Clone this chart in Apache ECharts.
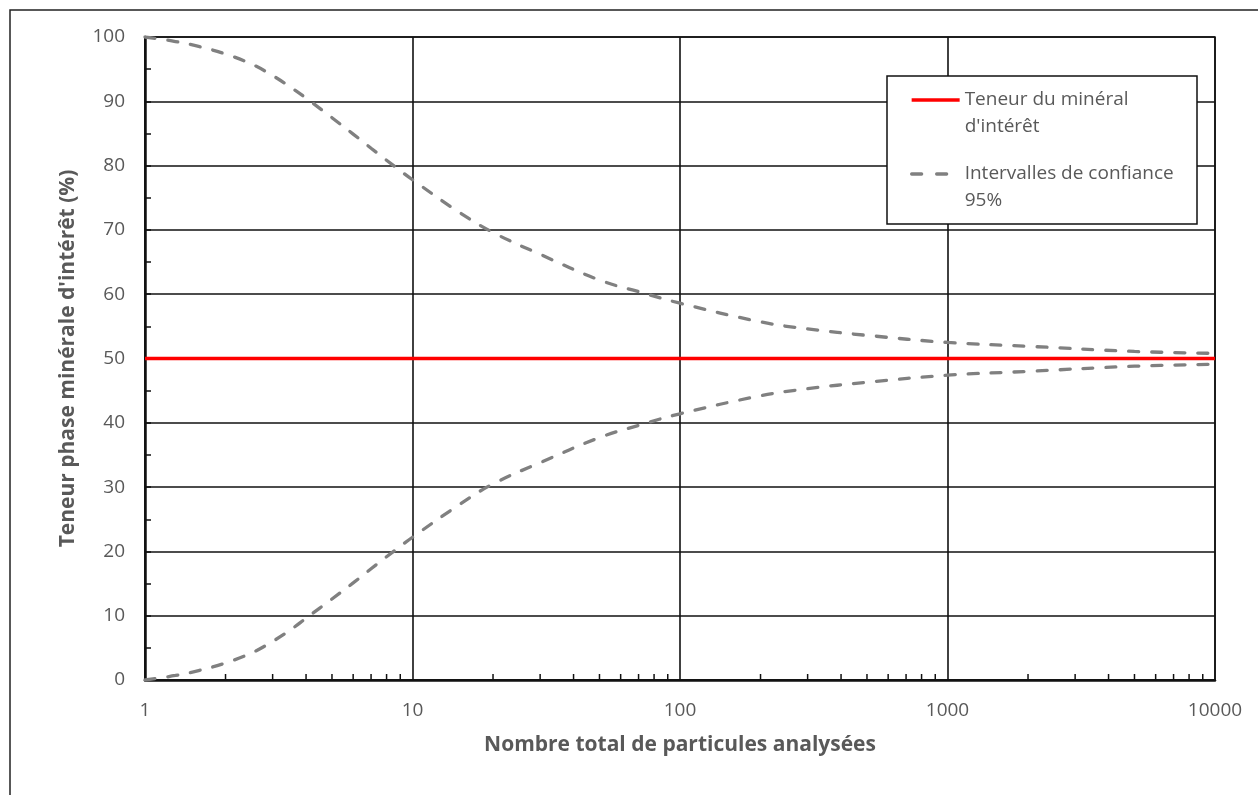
<!DOCTYPE html>
<html>
<head>
<meta charset="utf-8">
<script src="https://cdn.jsdelivr.net/npm/echarts@6/dist/echarts.min.js"></script>
<style>
html,body{margin:0;padding:0;background:#fff;}
#chart{width:1258px;height:795px;}
</style>
</head>
<body>
<div id="chart"></div>
<script>
// ---- Data ----
const particles = [1, 1.3, 1.6, 2, 2.5, 3, 3.5, 4, 5, 6, 7, 8.5, 10, 15, 20, 30, 50, 70, 100, 200, 300, 500, 1000, 2000, 5000, 10000];
const upperCI = [100, 99.3, 98.5, 97.35, 95.8, 94.0, 92.2, 90.5, 87.45, 84.9, 82.7, 80.0, 77.8, 72.7, 69.6, 66.2, 62.2, 60.4, 58.6, 55.7, 54.6, 53.6, 52.5, 51.9, 51.1, 50.8];
const lowerCI = [0, 0.7, 1.5, 2.65, 4.2, 6.0, 7.8, 9.6, 12.6, 15.1, 17.3, 20.0, 22.2, 27.3, 30.5, 33.8, 37.7, 39.6, 41.4, 44.2, 45.3, 46.3, 47.4, 48.0, 48.8, 49.1];
const gradeX = [1, 10000];
const gradeY = [50, 50];
const seriesNames = ["Teneur du minéral\nd'intérêt", "Intervalles de confiance\n95%"];
const xTickLabels = ["1", "10", "100", "1000", "10000"];
const yTickLabels = ["0", "10", "20", "30", "40", "50", "60", "70", "80", "90", "100"];
const xTitle = "Nombre total de particules analysées";
const yTitle = "Teneur phase minérale d'intérêt (%)";

// ---- Build series data ----
const gradeData = gradeX.map((x, i) => [x, gradeY[i]]);
const upperData = particles.map((x, i) => [x, upperCI[i]]);
const lowerData = particles.map((x, i) => [x, lowerCI[i]]);
// log-axis minor tick positions (2..9 x 10^k)
const minorX = [];
for (let k = 0; k < 4; k++) for (let m = 2; m <= 9; m++) minorX.push([m * Math.pow(10, k), 0]);

const FONT = "'Open Sans', 'Noto Sans', sans-serif";
const GREY_TXT = '#595959';
const dash = { color: '#808080', width: 3.3, type: [10, 13], cap: 'round' };

const chart = echarts.init(document.getElementById('chart'), null, { renderer: 'canvas' });
const legendCommon = {
  orient: 'vertical', left: 910, padding: 0, z: 60, itemWidth: 48, itemHeight: 14, selectedMode: false,
  itemStyle: { opacity: 0 },
  formatter: name => '\u00a0\n' + name,
  textStyle: { color: GREY_TXT, fontFamily: FONT, fontSize: 19, lineHeight: 27 }
};
chart.setOption({
  animation: false,
  backgroundColor: '#fff',
  grid: { left: 145, top: 37, right: 43, bottom: 115, show: true, borderColor: '#111', borderWidth: 1.5, containLabel: false },
  graphic: [
    { type: 'rect', z: 0, silent: true, shape: { x: 10, y: 10, width: 1300, height: 900 }, style: { fill: 'none', stroke: '#222', lineWidth: 1.5 } },
    { type: 'rect', z: 50, silent: true, shape: { x: 887, y: 76, width: 310, height: 148 }, style: { fill: '#fff', stroke: '#111', lineWidth: 1.5 } }
  ],
  legend: [
    Object.assign({ data: [seriesNames[0]], top: 59.5, lineStyle: { width: 3.3 } }, legendCommon),
    Object.assign({ data: [seriesNames[1]], top: 133.5, lineStyle: { width: 3.3, type: [10, 15], cap: 'round' } }, legendCommon)
  ],
  xAxis: {
    type: 'log', logBase: 10, min: 1, max: 10000,
    name: xTitle, nameLocation: 'middle', nameGap: 55,
    nameTextStyle: { color: GREY_TXT, fontFamily: FONT, fontSize: 21, fontWeight: 'bold' },
    axisLine: { show: true, lineStyle: { color: '#111', width: 2.5 } },
    axisTick: { show: false },
    axisLabel: { color: GREY_TXT, fontFamily: FONT, fontSize: 19, margin: 21,
      formatter: v => xTickLabels[Math.round(Math.log10(v))] },
    splitLine: { show: true, lineStyle: { color: '#111', width: 1.6 } }
  },
  yAxis: {
    type: 'value', min: 0, max: 100, interval: 10,
    name: yTitle, nameLocation: 'middle', nameGap: 66,
    nameTextStyle: { color: GREY_TXT, fontFamily: FONT, fontSize: 21, fontWeight: 'bold' },
    axisLine: { show: true, lineStyle: { color: '#111', width: 2.5 } },
    axisTick: { show: true, inside: true, length: 6, lineStyle: { color: '#111', width: 1.5 } },
    minorTick: { show: true, splitNumber: 2, length: 6, lineStyle: { color: '#111', width: 1.5 } },
    axisLabel: { color: GREY_TXT, fontFamily: FONT, fontSize: 19, margin: 20,
      formatter: v => yTickLabels[Math.round(v / 10)] },
    splitLine: { show: true, lineStyle: { color: '#111', width: 1.6 } }
  },
  series: [
    { name: seriesNames[0], type: 'line', data: gradeData, showSymbol: false, symbol: 'none', z: 3,
      lineStyle: { color: '#FF0000', width: 3.3 }, itemStyle: { color: '#FF0000' } },
    { name: seriesNames[1], type: 'line', data: upperData, smooth: 0.4, showSymbol: false, symbol: 'none', z: 4,
      lineStyle: dash, itemStyle: { color: '#808080' } },
    { name: seriesNames[1], type: 'line', data: lowerData, smooth: 0.4, showSymbol: false, symbol: 'none', z: 4,
      lineStyle: dash, itemStyle: { color: '#808080' } },
    { name: 'minorTicksX', type: 'custom', data: minorX, silent: true, z: 5, clip: false,
      renderItem: (params, api) => {
        const p = api.coord([api.value(0), 0]);
        return { type: 'line', shape: { x1: p[0], y1: p[1], x2: p[0], y2: p[1] - 6 }, style: { stroke: '#111', lineWidth: 1.5 } };
      } }
  ]
});
</script>
</body>
</html>
